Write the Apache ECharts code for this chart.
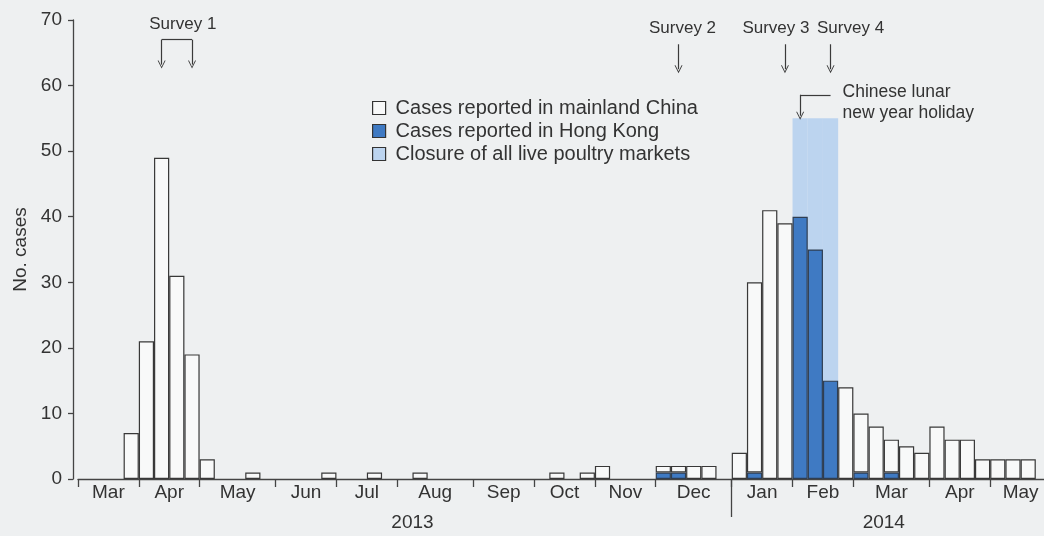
<!DOCTYPE html>
<html>
<head>
<meta charset="utf-8">
<script src="https://cdn.jsdelivr.net/npm/echarts@6/dist/echarts.min.js"></script>
<style>
html,body{margin:0;padding:0;background:#eef0f1;}
#chart{width:1044px;height:536px;}
</style>
</head>
<body>
<div id="chart"></div>
<script>
// ---------- data ----------
const months = ['Mar','Apr','May','Jun','Jul','Aug','Sep','Oct','Nov','Dec','Jan','Feb','Mar','Apr','May'];
const monthYears = ['2013','2013','2013','2013','2013','2013','2013','2013','2013','2013','2014','2014','2014','2014','2014'];
const weeksPerMonth = [4,4,5,4,4,5,4,4,4,5,4,4,5,4,4];
const years = ['2013','2014'];

// weekly cases, one entry per week (grouped by month)
const mainland = [
  0,0,0,7,        // Mar 2013
  21,49,31,19,    // Apr
  3,0,0,1,0,      // May
  0,0,0,1,        // Jun
  0,0,1,0,        // Jul
  0,1,0,0,0,      // Aug
  0,0,0,0,        // Sep
  0,1,0,1,        // Oct
  2,0,0,0,        // Nov
  1,1,2,2,0,      // Dec
  4,29,41,39,     // Jan 2014
  0,0,0,14,       // Feb
  9,8,5,5,4,      // Mar
  8,6,6,3,        // Apr
  3,3,3,0         // May
];
const hongKong = [
  0,0,0,0,  0,0,0,0,  0,0,0,0,0,  0,0,0,0,  0,0,0,0,  0,0,0,0,0,  0,0,0,0,  0,0,0,0,  0,0,0,0,
  1,1,0,0,0,      // Dec 2013
  0,1,0,0,        // Jan 2014
  40,35,15,0,     // Feb
  1,0,1,0,0,      // Mar
  0,0,0,0,        // Apr
  0,0,0,0         // May
];
const closure = [
  0,0,0,0,  0,0,0,0,  0,0,0,0,0,  0,0,0,0,  0,0,0,0,  0,0,0,0,0,  0,0,0,0,  0,0,0,0,  0,0,0,0,
  0,0,0,0,0,      // Dec 2013
  0,0,0,0,        // Jan 2014
  55,55,55,0,     // Feb
  0,0,0,0,0,  0,0,0,0,  0,0,0,0
];
const seriesNames = ['Cases reported in mainland China','Cases reported in Hong Kong','Closure of all live poultry markets'];
const surveyLabels = ['Survey 1','Survey 2','Survey 3','Survey 4'];
const surveyWeeks = [['Apr 2013 w2','Apr 2013 w4'],['Dec 2013 w2'],['Jan 2014 w4'],['Feb 2014 w3']];
const holidayLabel = 'Chinese lunar\nnew year holiday';
const holidayWeeks = ['Feb 2014 w1','Feb 2014 w3'];

// ---------- build axes ----------
const weekNames = [];
const monthStart = [];
months.forEach((m,i)=>{
  monthStart.push(weekNames.length);
  for(let w=1;w<=weeksPerMonth[i];w++) weekNames.push(m+' '+monthYears[i]+' w'+w);
});
const nWeeks = weekNames.length;
const halfNames = [];
for(let k=0;k<=2*nWeeks;k++) halfNames.push('h'+k);
const monthTickSet = new Set();
const monthLabelMap = new Map();
months.forEach((m,i)=>{
  monthTickSet.add(2*monthStart[i]);
  monthLabelMap.set(2*monthStart[i]+weeksPerMonth[i], m);
});
monthTickSet.add(2*nWeeks);
const yearBoundary = 2*monthStart[monthYears.indexOf('2014')];
const yearLabelMap = new Map();
yearLabelMap.set(44, years[0]);
yearLabelMap.set(106, years[1]);

const nz = a => a.map(v => v === 0 ? null : v);
const FONT = '"Liberation Sans", Arial, Helvetica, sans-serif';
const INK = '#333333';
const LINE = '#444444';

// ---------- annotations ----------
const lines = [];
const chevron = 'path://M0,10 L5,0 L10,10 L8.8,10 L5,2.4 L1.2,10 Z';
surveyWeeks.forEach((wk,i)=>{
  const top = i===0 ? 67 : 66.3, tip = i===0 ? 63.2 : 62.5;
  wk.forEach(w=>lines.push([{coord:[w,top],symbol:'none'},{coord:[w,tip],symbol:chevron}]));
  if(wk.length>1) lines.push([{coord:[wk[0],top],symbol:'none'},{coord:[wk[wk.length-1],top],symbol:'none'}]);
});
lines.push([{coord:[holidayWeeks[0],58.6],symbol:'none'},{coord:[holidayWeeks[1],58.6],symbol:'none'}]);
lines.push([{coord:[holidayWeeks[0],58.6],symbol:'none'},{coord:[holidayWeeks[0],55.4],symbol:chevron}]);

const labelOffsets = [[6,0],[4,0],[-9,0],[20,0]];
const points = surveyLabels.map((s,i)=>({
  coord:[surveyWeeks[i].length>1 ? 'Apr 2013 w3' : surveyWeeks[i][0], i===0 ? 69.3 : 68.7],
  label:{formatter:s, offset:labelOffsets[i]}
}));
points.push({coord:[holidayWeeks[1],57.4], label:{formatter:holidayLabel, align:'left', offset:[12,0], lineHeight:21, fontSize:17.5}});

const chart = echarts.init(document.getElementById('chart'), null, {renderer:'canvas'});
chart.setOption({
  backgroundColor:'#eef0f1',
  animation:false,
  textStyle:{fontFamily:FONT, color:INK},
  grid:{left:78, width:973, top:20, bottom:57, containLabel:false, outerBoundsMode:'none'},
  legend:{
    orient:'vertical', left:367, top:93, itemWidth:13, itemHeight:13, itemGap:3, icon:'rect',
    textStyle:{fontSize:20, color:INK, fontFamily:FONT, padding:[0,0,0,5]},
    data:[
      {name:seriesNames[0], itemStyle:{color:'#f8f9f9', borderColor:'#333', borderWidth:1.2}},
      {name:seriesNames[1], itemStyle:{color:'#3f7ac3', borderColor:'#333', borderWidth:1.2}},
      {name:seriesNames[2], itemStyle:{color:'#bcd4ef', borderColor:'#333', borderWidth:1.2}}
    ],
    selectedMode:false
  },
  xAxis:[
    {type:'category', data:weekNames, boundaryGap:true, show:false},
    {type:'category', data:halfNames, boundaryGap:false, position:'bottom',
     axisLine:{show:true, onZero:false, lineStyle:{color:LINE, width:1.3}},
     axisTick:{show:true, interval:(i)=>monthTickSet.has(i), length:8, lineStyle:{color:LINE, width:1.3}},
     axisLabel:{show:true, interval:(i)=>monthLabelMap.has(i), formatter:(v,i)=>monthLabelMap.get(i)||'',
       fontSize:19, color:INK, margin:4, fontFamily:FONT},
     splitLine:{show:false}},
    {type:'category', data:halfNames, boundaryGap:false, position:'bottom',
     axisLine:{show:false, onZero:false},
     axisTick:{show:true, interval:(i)=>i===yearBoundary, length:38, lineStyle:{color:LINE, width:1.3}},
     axisLabel:{show:true, interval:(i)=>yearLabelMap.has(i), formatter:(v,i)=>yearLabelMap.get(i)||'',
       fontSize:19, color:INK, margin:34, fontFamily:FONT},
     splitLine:{show:false}}
  ],
  yAxis:{
    type:'value', min:0, max:70, interval:10, offset:5,
    name:'No. cases', nameLocation:'middle', nameGap:42,
    nameTextStyle:{fontSize:19, color:INK, fontFamily:FONT},
    axisLine:{show:true, lineStyle:{color:LINE, width:1.3}},
    axisTick:{show:true, length:5, lineStyle:{color:LINE, width:1.3}},
    axisLabel:{fontSize:19, color:INK, margin:11, fontFamily:FONT},
    splitLine:{show:false}
  },
  series:[
    {name:seriesNames[2], type:'bar', xAxisIndex:0, data:nz(closure), barWidth:'100%', barGap:'-100%',
     itemStyle:{color:'#bcd4ef', borderWidth:0}, silent:true},
    {name:seriesNames[1], type:'bar', xAxisIndex:0, stack:'cases', data:nz(hongKong), barWidth:'100%', barGap:'-100%',
     itemStyle:{color:'#3f7ac3', borderColor:'#2f3e52', borderWidth:1.2}, silent:true},
    {name:seriesNames[0], type:'bar', xAxisIndex:0, stack:'cases', data:nz(mainland), barWidth:'100%', barGap:'-100%',
     itemStyle:{color:'#f8f9f9', borderColor:'#383838', borderWidth:1.2}, silent:true},
    {name:'annotations', type:'line', xAxisIndex:0, data:[], silent:true,
     markLine:{silent:true, symbolSize:8, label:{show:false},
       lineStyle:{color:'#3a3a3a', width:1.2, type:'solid'}, emphasis:{disabled:true}, data:lines},
     markPoint:{silent:true, symbol:'circle', symbolSize:1, itemStyle:{color:'rgba(0,0,0,0)'},
       label:{show:true, position:'inside', fontSize:17, color:INK, fontFamily:FONT},
       emphasis:{disabled:true}, data:points}
    }
  ]
});
</script>
</body>
</html>
